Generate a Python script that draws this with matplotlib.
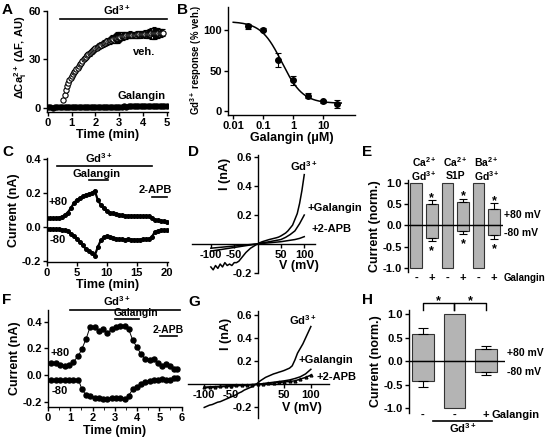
import numpy as np
import matplotlib
matplotlib.use('Agg')
import matplotlib.pyplot as plt
from matplotlib.ticker import FormatStrFormatter, MultipleLocator

# ---------------- data ----------------
# Panel A
a_veh_t = np.round(np.arange(0.65, 4.86, 0.05), 2)
a_veh = [5, 8, 11, 13.5, 15.5, 17, 18.5, 20, 21, 22, 23, 24, 25, 26, 27, 28, 29, 30, 31, 31.8,
         32.5, 33.2, 33.8, 34.5, 35, 35.6, 36.2, 36.8, 37.3, 37.8, 38.3, 38.8, 39.2, 39.6, 40,
         40.4, 40.8, 41.2, 41.5, 41.9, 42.2, 42.5, 42.8, 43.1, 43.3, 43.6, 43.8, 44, 44.2, 44.4,
         44.5, 44.7, 44.8, 44.9, 45, 45.1, 45.2, 45.2, 45.3, 45.3, 45.4, 45.4, 45.5, 45.5, 45.6,
         45.6, 45.7, 45.7, 45.8, 45.8, 45.9, 45.9, 46, 46, 46.1, 46.1, 46.2, 46.2, 46.3, 46.3,
         46.4, 46.4, 46.5, 46.5, 46.6]
a_veh_err = [0.5, 0.5, 0.6, 0.6, 0.7, 0.7, 0.8, 0.8, 0.9, 0.9, 1.0, 1.0, 1.0, 1.1, 1.1, 1.2, 1.2,
             1.2, 1.3, 1.3, 1.3, 1.4, 1.4, 1.4, 1.5, 1.5, 1.5, 1.6, 1.6, 1.6, 1.7, 1.7, 1.8, 1.8,
             1.9, 1.9, 2.0, 2.0, 2.1, 2.2, 2.3, 2.4, 2.6, 2.8, 3.0, 3.2, 3.4, 3.2, 2.8, 2.5, 2.3,
             2.2, 2.1, 2.0, 2.0, 2.1, 2.2, 2.0, 1.9, 1.8, 1.8, 1.9, 2.0, 2.1, 2.2, 2.1, 2.0, 2.0,
             2.1, 2.2, 2.4, 2.6, 2.8, 3.0, 3.2, 3.4, 3.6, 3.5, 3.3, 3.0, 2.8, 2.6, 2.4, 2.2, 2.0]
a_gal_t = np.round(np.arange(0, 5.01, 0.1), 1)
a_gal = [0.3, 0.5, 0.2, 0.6, 0.4, 0.8, 0.5, 0.3, 0.6, 0.4, 0.5, 0.6, 0.4, 0.5, 0.7, 0.5, 0.6,
         0.6, 0.5, 0.7, 0.6, 0.7, 0.6, 0.8, 0.7, 0.8, 0.7, 0.8, 0.9, 0.8, 0.9, 0.9, 1.0, 0.9,
         1.0, 1.0, 1.1, 1.0, 1.1, 1.1, 1.2, 1.1, 1.2, 1.2, 1.3, 1.2, 1.3, 1.4, 1.3, 1.4, 1.5]

# Panel B
b_conc = [0.03, 0.1, 0.3, 1, 3, 10, 30]
b_resp = [105, 101, 63, 38, 19, 12, 8.5]
b_err = [3, 2, 9, 6, 3, 2, 5]
b_fit_top, b_fit_bottom, b_fit_ic50, b_fit_hill = 111, 9.5, 0.42, 1.25

# Panel C
c_t = np.round(np.arange(0, 20.01, 0.5), 1)
c_pos = [0.055, 0.05, 0.05, 0.052, 0.055, 0.06, 0.07, 0.085, 0.11, 0.14, 0.16, 0.17, 0.18,
         0.19, 0.195, 0.2, 0.215, 0.16, 0.13, 0.11, 0.095, 0.085, 0.08, 0.075, 0.07, 0.068,
         0.067, 0.066, 0.066, 0.065, 0.066, 0.065, 0.064, 0.065, 0.063, 0.055, 0.042, 0.04,
         0.036, 0.032, 0.03]
c_neg = [-0.01, -0.012, -0.012, -0.015, -0.015, -0.016, -0.018, -0.025, -0.04, -0.055, -0.07,
         -0.09, -0.11, -0.13, -0.14, -0.155, -0.17, -0.12, -0.08, -0.06, -0.055, -0.06, -0.065,
         -0.07, -0.072, -0.073, -0.075, -0.074, -0.075, -0.075, -0.076, -0.075, -0.074, -0.073,
         -0.07, -0.06, -0.03, -0.025, -0.02, -0.018, -0.02]

# Panel D (I-V)
d_v = np.arange(-100, 101, 5)
d_gd = [-0.16, -0.18, -0.15, -0.17, -0.14, -0.16, -0.13, -0.15, -0.14, -0.15, -0.13, -0.13,
        -0.12, -0.10, -0.08, -0.06, -0.045, -0.03, -0.02, -0.01, 0.0, 0.008, 0.015, 0.02,
        0.025, 0.03, 0.034, 0.038, 0.042, 0.047, 0.055, 0.065, 0.075, 0.09, 0.11, 0.13, 0.17,
        0.21, 0.28, 0.37, 0.48]
d_v2 = np.arange(-100, 101, 10)
d_gal = [-0.05, -0.045, -0.04, -0.035, -0.03, -0.025, -0.02, -0.015, -0.01, -0.005, 0.0,
         0.008, 0.012, 0.018, 0.024, 0.03, 0.045, 0.065, 0.09, 0.14, 0.2]
d_apb = [-0.03, -0.027, -0.024, -0.021, -0.018, -0.015, -0.012, -0.009, -0.006, -0.003, 0.0,
         0.003, 0.006, 0.009, 0.012, 0.015, 0.02, 0.025, 0.03, 0.038, 0.05]

# Panel E
e_cond = ['-', '+', '-', '+', '-', '+']
e_top = [1.0, 0.50, 1.0, 0.555, 1.0, 0.38]
e_bot = [-1.0, -0.29, -1.0, -0.125, -1.0, -0.23]
e_top_err = [0, 0.09, 0, 0.075, 0, 0.14]
e_bot_err = [0, 0.08, 0, 0.065, 0, 0.09]
e_groups = [('Ca$^{2+}$', 'Gd$^{3+}$'), ('Ca$^{2+}$', 'S1P'), ('Ba$^{2+}$', 'Gd$^{3+}$')]

# Panel F
f_t = [0.12, 0.35, 0.54, 0.77, 0.96, 1.14, 1.37, 1.52, 1.71, 1.89, 2.12, 2.31, 2.49, 2.67, 2.87,
       3.06, 3.24, 3.44, 3.62, 3.81, 3.99, 4.17, 4.37, 4.56, 4.74, 4.92, 5.12, 5.32, 5.5, 5.68, 5.8]
f_pos = [0.09, 0.09, 0.075, 0.065, 0.075, 0.10, 0.145, 0.195, 0.27, 0.36, 0.36, 0.33, 0.345,
         0.315, 0.345, 0.36, 0.37, 0.37, 0.345, 0.26, 0.21, 0.16, 0.12, 0.11, 0.12, 0.09, 0.07,
         0.08, 0.065, 0.045, 0.045]
f_neg = [-0.035, -0.035, -0.035, -0.035, -0.035, -0.035, -0.035, -0.105, -0.15, -0.155, -0.168,
         -0.17, -0.18, -0.18, -0.175, -0.168, -0.168, -0.18, -0.155, -0.105, -0.09, -0.068,
         -0.05, -0.043, -0.035, -0.035, -0.03, -0.035, -0.04, -0.025, -0.02]

# Panel G (I-V)
g_v = np.arange(-100, 101, 5)
g_gd = [-0.2, -0.19, -0.18, -0.175, -0.165, -0.155, -0.15, -0.14, -0.13, -0.12, -0.11, -0.1,
        -0.09, -0.075, -0.065, -0.05, -0.04, -0.03, -0.02, -0.005, 0.01, 0.03, 0.045, 0.06,
        0.07, 0.08, 0.09, 0.097, 0.105, 0.112, 0.12, 0.13, 0.14, 0.16, 0.21, 0.27, 0.31, 0.35,
        0.4, 0.45, 0.5]
g_v2 = np.arange(-100, 101, 10)
g_gal = [-0.03, -0.027, -0.024, -0.021, -0.018, -0.015, -0.012, -0.009, -0.006, -0.003, 0.0,
         0.006, 0.012, 0.018, 0.024, 0.03, 0.038, 0.05, 0.065, 0.09, 0.13]
g_apb = [-0.025, -0.022, -0.02, -0.017, -0.015, -0.012, -0.01, -0.007, -0.005, -0.002, 0.0,
         0.004, 0.008, 0.012, 0.016, 0.02, 0.025, 0.03, 0.045, 0.06, 0.08]

# Panel H
h_cond = ['-', '-', '+']
h_top = [0.58, 1.0, 0.255]
h_bot = [-0.42, -1.0, -0.22]
h_top_err = [0.12, 0, 0.075]
h_bot_err = [0.12, 0, 0.07]

# ---------------- style ----------------
plt.rcParams.update({
    'font.family': ['Liberation Sans', 'DejaVu Sans'],
    'font.weight': 'bold',
    'font.size': 8,
    'axes.labelweight': 'bold',
    'axes.labelsize': 9,
    'axes.unicode_minus': False,
    'mathtext.fontset': 'custom',
    'mathtext.rm': 'Liberation Sans:bold',
    'mathtext.bf': 'Liberation Sans:bold',
    'mathtext.it': 'Liberation Sans:bold',
    'mathtext.default': 'bf',
    'axes.linewidth': 1.0,
    'xtick.major.size': 3, 'ytick.major.size': 3,
    'xtick.minor.size': 1.8, 'ytick.minor.size': 1.8,
    'xtick.major.width': 1.0, 'ytick.major.width': 1.0,
    'xtick.major.pad': 1.2, 'ytick.major.pad': 1.2,
    'xtick.labelsize': 8, 'ytick.labelsize': 8,
    'axes.labelpad': 1.0,
})

W, H = 551, 437
fig = plt.figure(figsize=(W / 100, H / 100), dpi=100)


def add_ax(l, t, r, b):
    ax = fig.add_axes([l / W, 1 - b / H, (r - l) / W, (b - t) / H])
    ax.spines['top'].set_visible(False)
    ax.spines['right'].set_visible(False)
    ax.patch.set_alpha(0)
    return ax


def ftext(x, y, s, **kw):
    fig.text(x / W, 1 - y / H, s, **kw)


def star(ax, x, y):
    ax.annotate('*', (x, y), xytext=(0, -4.6), textcoords='offset points',
                ha='center', va='baseline', fontsize=9, annotation_clip=False)


# panel letters
for letter, x, y in [('A', 2, 2.5), ('B', 177.5, 2.5), ('C', 2, 145.5), ('D', 188, 145.5),
                     ('E', 362, 145.5), ('F', 2, 292.5), ('G', 188, 294.5), ('H', 362, 292.5)]:
    ftext(x, y, letter, fontsize=11, fontweight='bold', ha='left', va='top')

# ---------------- A ----------------
axA = add_ax(47, 11, 168, 112)
axA.errorbar(a_veh_t, a_veh, yerr=a_veh_err, fmt='o', mfc='white', mec='black', mew=0.8,
             ms=3.8, ecolor='black', elinewidth=0.7, capsize=1.5, capthick=0.7, zorder=3)
axA.plot(a_gal_t, a_gal, 'o', color='black', ms=3.6, zorder=4)
axA.set_xlim(-0.04, 5.05)
axA.set_ylim(-2.5, 60)
axA.set_xticks([0, 1, 2, 3, 4, 5])
axA.set_yticks([0, 30, 60])
axA.plot([0.5, 5.0], [54.8, 54.8], color='black', lw=1.2, clip_on=False)
axA.text(2.9, 56.5, 'Gd$^{3+}$', ha='center', va='bottom', fontsize=8)
axA.text(4.05, 34.6, 'veh.', ha='center', va='center', fontsize=8)
axA.text(3.94, 7.4, 'Galangin', ha='center', va='center', fontsize=8)
axA.set_xlabel('Time (min)')
ftext(20.5, 57, r'$\Delta$Ca$_i^{2+}$ ($\Delta$F, AU)', rotation=90, ha='center', va='center',
      fontsize=8)

# ---------------- B ----------------
axB = add_ax(228, 7, 355, 115)
axB.set_xscale('log')
xs = np.logspace(-2, np.log10(40), 200)
fit = b_fit_bottom + (b_fit_top - b_fit_bottom) / (1 + (xs / b_fit_ic50) ** b_fit_hill)
axB.plot(xs, fit, color='black', lw=1.1)
axB.errorbar(b_conc, b_resp, yerr=b_err, fmt='o', color='black', ms=4, elinewidth=0.8,
             capsize=2, capthick=0.8)
axB.set_xlim(0.0067, 115)
axB.set_ylim(-5, 129)
axB.set_xticks([0.01, 0.1, 1, 10])
axB.set_xticklabels(['0.01', '0.1', '1', '10'])
axB.set_yticks([0, 50, 100])
axB.set_xlabel('Galangin (μM)')
ftext(196.5, 60, 'Gd$^{3+}$ response (% veh.)', rotation=90, ha='center', va='center',
      fontsize=6.9)

# ---------------- C ----------------
axC = add_ax(46.7, 158.3, 168, 261.7)
axC.plot(c_t, c_pos, '-o', color='black', ms=2.6, lw=1.6)
axC.plot(c_t, c_neg, '-o', color='black', ms=2.6, lw=1.6)
axC.set_xlim(0, 20.2)
axC.set_ylim(-0.206, 0.406)
axC.set_xticks([0, 5, 10, 15, 20])
axC.set_yticks([-0.2, 0.0, 0.2, 0.4])
axC.yaxis.set_major_formatter(FormatStrFormatter('%.1f'))
axC.plot([1.7, 17.5], [0.358, 0.358], color='black', lw=1.2)
axC.plot([7.0, 10.2], [0.276, 0.276], color='black', lw=1.2)
axC.plot([17.5, 20.0], [0.178, 0.178], color='black', lw=1.2)
axC.text(8.7, 0.368, 'Gd$^{3+}$', ha='center', va='bottom', fontsize=8)
axC.text(8.3, 0.284, 'Galangin', ha='center', va='bottom', fontsize=8)
axC.text(18.05, 0.186, '2-APB', ha='center', va='bottom', fontsize=8)
axC.text(1.9, 0.148, '+80', ha='center', va='center', fontsize=8)
axC.text(1.9, -0.079, '-80', ha='center', va='center', fontsize=8)
axC.set_xlabel('Time (min)')
axC.set_ylabel('Current (nA)')

# ---------------- D ----------------
axD = add_ax(191.7, 155, 315, 273.3)
axD.plot(d_v, d_gd, color='black', lw=1.1)
axD.plot(d_v2, d_gal, color='black', lw=1.1)
axD.plot(d_v2, d_apb, color='black', lw=1.1)
axD.set_xlim(-141, 123)
axD.set_ylim(-0.204, 0.616)
axD.spines['left'].set_position(('data', 0))
axD.spines['bottom'].set_position(('data', 0))
axD.set_xticks([-100, -50, 50, 100])
axD.set_yticks([-0.2, 0.2, 0.4, 0.6])
axD.yaxis.set_major_formatter(FormatStrFormatter('%.1f'))
axD.text(98, 0.54, 'Gd$^{3+}$', ha='center', va='center', fontsize=8)
axD.text(107, 0.25, '+Galangin', ha='left', va='center', fontsize=8)
axD.text(116, 0.104, '+2-APB', ha='left', va='center', fontsize=8)
axD.text(88, -0.152, 'V (mV)', ha='center', va='center', fontsize=9)
ftext(225, 174, 'I (nA)', rotation=90, ha='center', va='center', fontsize=9)

# ---------------- E ----------------
axE = add_ax(408, 180, 503, 271.7)
e_x = np.arange(len(e_top))
bw = 0.74
axE.bar(e_x, e_top, width=bw, color='#b4b4b4', edgecolor='#333333', lw=0.8)
axE.bar(e_x, e_bot, width=bw, color='#b4b4b4', edgecolor='#333333', lw=0.8)
for i in range(len(e_x)):
    if e_top_err[i] > 0:
        axE.errorbar(e_x[i], e_top[i], yerr=[[0], [e_top_err[i]]], color='black', lw=0.8,
                     capsize=2.8, capthick=0.8)
        axE.errorbar(e_x[i], e_bot[i], yerr=[[e_bot_err[i]], [0]], color='black', lw=0.8,
                     capsize=2.8, capthick=0.8)
        star(axE, e_x[i], e_top[i] + e_top_err[i] + 0.13)
        star(axE, e_x[i], e_bot[i] - e_bot_err[i] - 0.16)
axE.axhline(0, color='black', lw=1.0)
axE.set_xlim(-0.526, 5.56)
axE.set_ylim(-1.08, 1.063)
axE.spines['bottom'].set_visible(False)
axE.set_xticks([])
axE.set_yticks([-1.0, -0.5, 0.0, 0.5, 1.0])
axE.yaxis.set_major_formatter(FormatStrFormatter('%.1f'))
for i, c in enumerate(e_cond):
    axE.text(e_x[i], -1.22, c, ha='center', va='center', fontsize=8)
axE.text(5.62, -1.22, 'Galangin', ha='left', va='center', fontsize=7)
for k, (l1, l2) in enumerate(e_groups):
    axE.text(2 * k + 0.5, 1.47, l1, ha='center', va='center', fontsize=7.5)
    axE.text(2 * k + 0.5, 1.16, l2, ha='center', va='center', fontsize=7.5)
ftext(504, 215, '+80 mV', ha='left', va='center', fontsize=7.5)
ftext(504, 233, '-80 mV', ha='left', va='center', fontsize=7.5)
axE.set_ylabel('Current (norm.)')

# ---------------- F ----------------
axF = add_ax(48, 310, 182, 407.3)
axF.plot(f_t, f_pos, '-o', color='black', ms=3.6, lw=0.7)
axF.plot(f_t, f_neg, '-o', color='black', ms=3.6, lw=0.7)
axF.set_xlim(0, 6.02)
axF.set_ylim(-0.241, 0.487)
axF.set_xticks([0, 1, 2, 3, 4, 5, 6])
axF.xaxis.set_minor_locator(MultipleLocator(0.5))
axF.set_yticks([-0.2, 0.0, 0.2, 0.4])
axF.yaxis.set_major_formatter(FormatStrFormatter('%.1f'))
axF.plot([0.99, 5.95], [0.489, 0.489], color='black', lw=1.2, clip_on=False)
axF.plot([3.02, 4.07], [0.42, 0.42], color='black', lw=1.2, clip_on=False)
axF.plot([5.05, 5.8], [0.295, 0.295], color='black', lw=1.2, clip_on=False)
axF.text(3.1, 0.5, 'Gd$^{3+}$', ha='center', va='bottom', fontsize=8)
axF.text(3.95, 0.424, 'Galangin', ha='center', va='bottom', fontsize=7.5)
axF.text(5.4, 0.3, '2-APB', ha='center', va='bottom', fontsize=7.5)
axF.text(0.52, 0.163, '+80', ha='center', va='center', fontsize=8)
axF.text(0.55, -0.116, '-80', ha='center', va='center', fontsize=8)
axF.set_xlabel('Time (min)')
axF.set_ylabel('Current (nA)')

# ---------------- G ----------------
axG = add_ax(187.7, 310.7, 329, 418.3)
axG.plot(g_v, g_gd, color='black', lw=1.1)
axG.plot(g_v2, g_gal, color='black', lw=1.1)
axG.plot(g_v2, g_apb, color='black', lw=1.1, marker='^', ms=2, mfc='none')
axG.set_xlim(-131, 134)
axG.set_ylim(-0.294, 0.637)
axG.spines['left'].set_position(('data', 0))
axG.spines['bottom'].set_position(('data', 0))
axG.set_xticks([-100, -50, 50, 100])
axG.set_yticks([-0.2, 0.2, 0.4, 0.6])
axG.yaxis.set_major_formatter(FormatStrFormatter('%.1f'))
axG.text(85.6, 0.557, 'Gd$^{3+}$', ha='center', va='center', fontsize=8)
axG.text(76, 0.21, '+Galangin', ha='left', va='center', fontsize=8)
axG.text(110, 0.06, '+2-APB', ha='left', va='center', fontsize=8)
axG.text(82.5, -0.208, 'V (mV)', ha='center', va='center', fontsize=9)
ftext(226, 334, 'I (nA)', rotation=90, ha='center', va='center', fontsize=9)

# ---------------- H ----------------
axH = add_ax(409, 310, 505, 412.7)
h_x = np.arange(len(h_top))
hw = 0.68
axH.bar(h_x, h_top, width=hw, color='#b4b4b4', edgecolor='#333333', lw=0.8)
axH.bar(h_x, h_bot, width=hw, color='#b4b4b4', edgecolor='#333333', lw=0.8)
for i in range(len(h_x)):
    if h_top_err[i] > 0:
        axH.errorbar(h_x[i], h_top[i], yerr=[[0], [h_top_err[i]]], color='black', lw=0.8,
                     capsize=3.5, capthick=0.8)
        axH.errorbar(h_x[i], h_bot[i], yerr=[[h_bot_err[i]], [0]], color='black', lw=0.8,
                     capsize=3.5, capthick=0.8)
axH.axhline(0, color='black', lw=1.0)
axH.set_xlim(-0.44, 2.6)
axH.set_ylim(-1.094, 1.09)
axH.spines['bottom'].set_visible(False)
axH.set_xticks([])
axH.set_yticks([-1.0, -0.5, 0.0, 0.5, 1.0])
axH.yaxis.set_major_formatter(FormatStrFormatter('%.1f'))
# significance brackets
for a, b in [(0, 1), (1, 2)]:
    axH.plot([h_x[a], h_x[a], h_x[b], h_x[b]], [1.09, 1.24, 1.24, 1.09], color='black',
             lw=1.0, clip_on=False)
    star(axH, (h_x[a] + h_x[b]) / 2, 1.36)
for i, c in enumerate(h_cond):
    axH.text(h_x[i], -1.14, c, ha='center', va='center', fontsize=8)
axH.text(2.18, -1.14, 'Galangin', ha='left', va='center', fontsize=8)
axH.plot([0.33, 2.2], [-1.27, -1.27], color='black', lw=1.2, clip_on=False)
axH.text(1.25, -1.42, 'Gd$^{3+}$', ha='center', va='center', fontsize=8)
ftext(507, 352.7, '+80 mV', ha='left', va='center', fontsize=7.5)
ftext(507, 371.7, '-80 mV', ha='left', va='center', fontsize=7.5)
axH.set_ylabel('Current (norm.)')

fig.savefig('out.png', dpi=100)
